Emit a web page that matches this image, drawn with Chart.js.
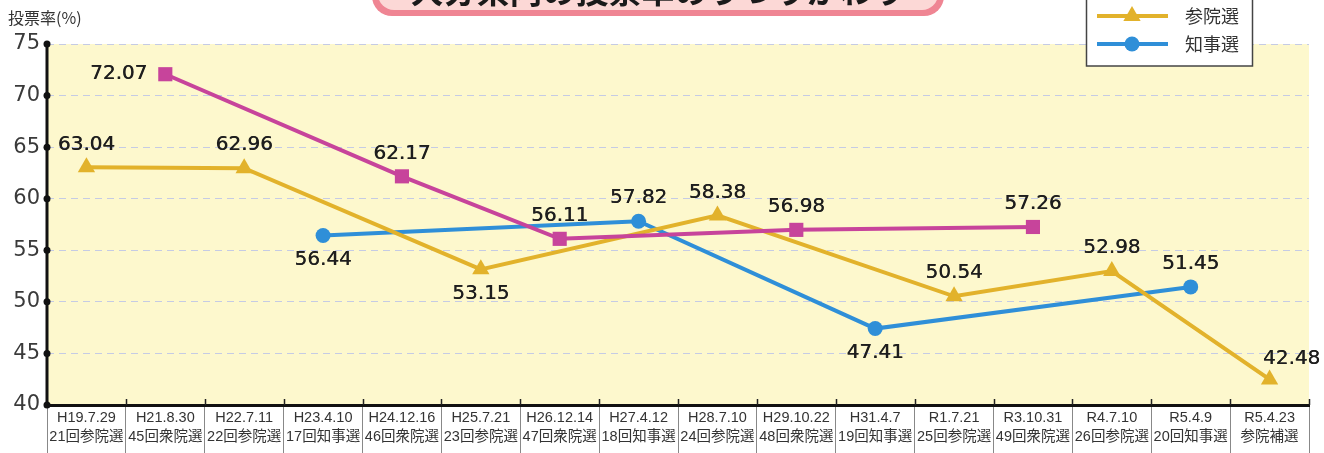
<!DOCTYPE html>
<html lang="ja">
<head>
<meta charset="utf-8">
<title>投票率のうつりかわり</title>
<script src="https://cdn.jsdelivr.net/npm/chart.js@4"></script>
<style>
  html, body { margin: 0; padding: 0; background: #fff; }
  #wrap { width: 1324px; height: 453px; }
</style>
</head>
<body>
<div id="wrap"><canvas id="chart" width="1324" height="453"></canvas></div>
<script>
// election dates / names (x axis)
const categories = [
  ["H19.7.29", "21回参院選"], ["H21.8.30", "45回衆院選"], ["H22.7.11", "22回参院選"],
  ["H23.4.10", "17回知事選"], ["H24.12.16", "46回衆院選"], ["H25.7.21", "23回参院選"],
  ["H26.12.14", "47回衆院選"], ["H27.4.12", "18回知事選"], ["H28.7.10", "24回参院選"],
  ["H29.10.22", "48回衆院選"], ["H31.4.7", "19回知事選"], ["R1.7.21", "25回参院選"],
  ["R3.10.31", "49回衆院選"], ["R4.7.10", "26回参院選"], ["R5.4.9", "20回知事選"],
  ["R5.4.23", "参院補選"]
];

// turnout (%) per election type, null where no election of that type
const shuin = [null, 72.07, null, null, 62.17, null, 56.11, null, null, 56.98, null, null, 57.26, null, null, null];
const sanin = [63.04, null, 62.96, null, null, 53.15, null, null, 58.38, null, null, 50.54, null, 52.98, null, 42.48];
const chiji = [null, null, null, 56.44, null, null, null, 57.82, null, null, 47.41, null, null, null, 51.45, null];

const yTicks = [40, 45, 50, 55, 60, 65, 70, 75];

// where each value label sits relative to its marker (default: above)
const shuPos = { 1: "left" };
const sanPos = { 5: "below", 15: "aboveRight" };
const chijiPos = { 3: "below", 10: "below" };

const COL_SHU = "#c7449b";
const COL_SAN = "#e2b22b";
const COL_CHI = "#2f8fd8";

const decorations = {
  id: "decorations",
  beforeDraw(chart) {
    const { ctx, chartArea: a } = chart;
    ctx.save();
    ctx.fillStyle = "#fdf8cd";
    ctx.fillRect(a.left, a.top, a.right - a.left, a.bottom - a.top);
    ctx.restore();
  },
  afterDraw(chart) {
    const { ctx, chartArea: a } = chart;
    const y = chart.scales.y;
    ctx.save();
    // y axis line + dots
    ctx.strokeStyle = "#111";
    ctx.lineWidth = 3;
    ctx.beginPath();
    ctx.moveTo(a.left, a.top);
    ctx.lineTo(a.left, a.bottom);
    ctx.stroke();
    ctx.fillStyle = "#111";
    yTicks.forEach(v => {
      ctx.beginPath();
      ctx.arc(a.left, y.getPixelForValue(v), 3.5, 0, Math.PI * 2);
      ctx.fill();
    });
    // small ticks above the x axis at category borders
    ctx.strokeStyle = "#222";
    ctx.lineWidth = 1.5;
    const step = (a.right - a.left) / categories.length;
    for (let i = 1; i <= categories.length; i++) {
      const px = Math.round(a.left + step * i) + 0.5;
      ctx.beginPath();
      ctx.moveTo(px, a.bottom - 6);
      ctx.lineTo(px, a.bottom);
      ctx.stroke();
    }
    // axis title
    ctx.fillStyle = "#333";
    ctx.font = "16px 'Noto Sans CJK JP'";
    ctx.textBaseline = "middle";
    ctx.textAlign = "left";
    ctx.fillText("投票率(%)", 8, 18);

    // title box (mostly cut off at the top)
    ctx.beginPath();
    ctx.roundRect(372, -50, 572, 66, 20);
    ctx.fillStyle = "#ef8593";
    ctx.fill();
    ctx.beginPath();
    ctx.roundRect(378, -50, 560, 60, 16);
    ctx.fillStyle = "#fcd8d6";
    ctx.fill();
    ctx.fillStyle = "#1a1a1a";
    ctx.font = "bold 33px 'Noto Sans CJK JP'";
    ctx.textAlign = "center";
    ctx.textBaseline = "alphabetic";
    ctx.fillText("大分県内の投票率のうつりかわり", 658, 3);

    // legend
    ctx.fillStyle = "#fff";
    ctx.fillRect(1086, -30, 167, 96);
    ctx.strokeStyle = "#444";
    ctx.lineWidth = 1.5;
    ctx.strokeRect(1086.5, -30, 166, 96);
    chart.data.datasets.forEach((ds, i) => {
      const ly = -12 + i * 28;
      ctx.strokeStyle = ds.borderColor;
      ctx.lineWidth = 4;
      ctx.beginPath();
      ctx.moveTo(1097, ly);
      ctx.lineTo(1168, ly);
      ctx.stroke();
      ctx.fillStyle = ds.borderColor;
      Chart.helpers.drawPoint(ctx, {
        pointStyle: ds.pointStyle, radius: ds.pointRadius, rotation: 0, borderWidth: 0
      }, 1132, ly);
      ctx.fillStyle = "#333";
      ctx.font = "18px 'Noto Sans CJK JP'";
      ctx.textAlign = "left";
      ctx.textBaseline = "middle";
      ctx.fillText(ds.label, 1185, ly);
    });
    ctx.restore();
  },
  afterDatasetsDraw(chart) {
    const { ctx } = chart;
    const positions = [shuPos, sanPos, chijiPos];
    ctx.save();
    ctx.font = "20px 'DejaVu Sans'";
    ctx.fillStyle = "#1e1e1e";
    ctx.textBaseline = "middle";
    chart.data.datasets.forEach((ds, di) => {
      const meta = chart.getDatasetMeta(di);
      ds.data.forEach((v, i) => {
        if (v === null) return;
        const pt = meta.data[i];
        const pos = positions[di][i] || "above";
        const txt = v.toFixed(2);
        let tx = pt.x, ty = pt.y - 23;
        ctx.textAlign = "center";
        if (pos === "below") { ty = pt.y + 24; }
        if (pos === "left") { tx = pt.x - 18; ty = pt.y; ctx.textAlign = "right"; }
        if (pos === "aboveRight") { tx = pt.x + 22; ty = pt.y - 21; }
        ctx.fillText(txt, tx, ty);
        ctx.fillText(txt, tx + 0.4, ty);
      });
    });
    ctx.restore();
  }
};

new Chart(document.getElementById("chart"), {
  type: "line",
  data: {
    labels: categories,
    datasets: [
      { label: "衆院選", data: shuin, borderColor: COL_SHU, backgroundColor: COL_SHU,
        pointStyle: "rect", pointRadius: 10, borderWidth: 4, pointBorderWidth: 0, spanGaps: true },
      { label: "参院選", data: sanin, borderColor: COL_SAN, backgroundColor: COL_SAN,
        pointStyle: "triangle", pointRadius: 10, borderWidth: 4, pointBorderWidth: 0, spanGaps: true },
      { label: "知事選", data: chiji, borderColor: COL_CHI, backgroundColor: COL_CHI,
        pointStyle: "circle", pointRadius: 7.5, borderWidth: 4, pointBorderWidth: 0, spanGaps: true }
    ]
  },
  options: {
    responsive: false,
    animation: false,
    layout: { padding: { top: 44, right: 15, left: 0, bottom: 0 } },
    plugins: { legend: { display: false }, tooltip: { enabled: false } },
    scales: {
      x: {
        offset: true,
        grid: { offset: true, drawOnChartArea: false, drawTicks: true, tickLength: 48, color: "#888", lineWidth: 1 },
        border: { color: "#111", width: 3 },
        ticks: {
          padding: -45, color: "#333", maxRotation: 0, autoSkip: false,
          font: { family: "'Liberation Sans', 'Noto Sans CJK JP'", size: 14.5, lineHeight: 1.35 }
        },
        afterFit: s => { s.height = 48; }
      },
      y: {
        min: 40, max: 75,
        afterBuildTicks: s => { s.ticks = yTicks.map(v => ({ value: v })); },
        grid: { color: "#c5cbe4", lineWidth: 1, drawTicks: false },
        border: { display: false, dash: [7, 5] },
        ticks: { padding: 7, color: "#3a3a3a", font: { family: "'DejaVu Sans'", size: 21 } },
        afterFit: s => { s.width = 47; }
      }
    }
  },
  plugins: [decorations]
});
</script>
</body>
</html>
